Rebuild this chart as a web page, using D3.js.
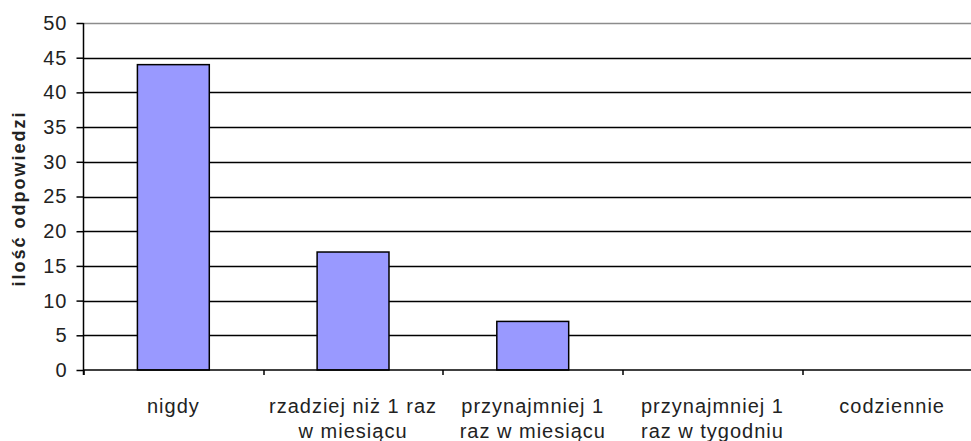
<!DOCTYPE html>
<html>
<head>
<meta charset="utf-8">
<script src="https://cdn.jsdelivr.net/npm/d3@7"></script>
<style>
  body { margin: 0; background: #fff; }
  text { font-family: "Liberation Sans", Arial, sans-serif; }
</style>
</head>
<body>
<script>
// chart data
var categories = ["nigdy", "rzadziej niż 1 raz|w miesiącu", "przynajmniej 1|raz w miesiącu", "przynajmniej 1|raz w tygodniu", "codziennie"];
var values = [44, 17, 7, 0, 0];
var yTicks = [0, 5, 10, 15, 20, 25, 30, 35, 40, 45, 50];
var yLabel = "ilość odpowiedzi";

var margin = {top: 23, right: 0, bottom: 71, left: 83.5},
    width = 982 - margin.left,
    height = 441 - margin.top - margin.bottom;

var svg = d3.select("body").append("svg")
    .attr("width", 971)
    .attr("height", 441)
  .append("g")
    .attr("transform", "translate(" + margin.left + "," + margin.top + ")");

var x = d3.scaleBand()
    .domain(categories)
    .range([0, width])
    .paddingInner(0.6)
    .paddingOuter(0.3);

// band boundaries for category ticks
var xb = d3.scaleBand().domain(categories).range([0, width]);

var y = d3.scaleLinear().domain([0, 50]).range([height, 0]);

// gridlines
svg.selectAll(".grid")
    .data(yTicks.filter(function(d) { return d > 0; }))
  .enter().append("line")
    .attr("x1", 0).attr("x2", width)
    .attr("y1", function(d) { return Math.round(y(d)) + 0.5; })
    .attr("y2", function(d) { return Math.round(y(d)) + 0.5; })
    .attr("stroke", function(d) { return d === 50 ? "#8c8c8c" : "#000"; })
    .attr("stroke-width", 1.5);

// bars
svg.selectAll(".bar")
    .data(values.map(function(v, i) { return {c: categories[i], v: v}; }).filter(function(d) { return d.v > 0; }))
  .enter().append("rect")
    .attr("x", function(d) { return x(d.c); })
    .attr("width", x.bandwidth())
    .attr("y", function(d) { return y(d.v); })
    .attr("height", function(d) { return height - y(d.v); })
    .attr("fill", "#9999ff")
    .attr("stroke", "#000")
    .attr("stroke-width", 1.5);

// y axis
var yAxis = svg.append("g")
    .call(d3.axisLeft(y).tickValues(yTicks).tickSize(7).tickPadding(9));
yAxis.select(".domain").attr("stroke-width", 1.5).attr("d", "M0," + (height + 5) + "V0");
yAxis.selectAll(".tick line").attr("stroke-width", 1.5);
yAxis.selectAll("text").attr("font-size", 20).attr("fill", "#222")
    .attr("letter-spacing", 1)
    .style("font-family", "'Liberation Sans', Arial, sans-serif");

// x axis
var xAxisG = svg.append("g").attr("transform", "translate(0," + height + ")");
xAxisG.append("line")
    .attr("x1", 0).attr("x2", width)
    .attr("y1", 0).attr("y2", 0)
    .attr("stroke", "#000").attr("stroke-width", 1.5);
xAxisG.selectAll(".xt")
    .data(categories)
  .enter().append("line")
    .attr("x1", function(d) { return Math.round(xb(d)) + 0.5; })
    .attr("x2", function(d) { return Math.round(xb(d)) + 0.5; })
    .attr("y1", 0).attr("y2", 5)
    .attr("stroke", "#000").attr("stroke-width", 1.5);

var lbl = xAxisG.selectAll(".xl")
    .data(categories)
  .enter().append("text")
    .attr("text-anchor", "middle")
    .attr("font-size", 20)
    .attr("letter-spacing", 1)
    .attr("fill", "#222")
    .attr("transform", function(d) { return "translate(" + (xb(d) + xb.bandwidth() / 2) + ",43)"; });
lbl.selectAll("tspan")
    .data(function(d) { return d.split("|"); })
  .enter().append("tspan")
    .attr("x", 0)
    .attr("y", function(d, i) { return i * 25; })
    .text(function(d) { return d; });

// y label
svg.append("text")
    .attr("transform", "translate(-58.5," + (height / 2 + 2) + ") rotate(-90)")
    .attr("text-anchor", "middle")
    .attr("font-size", 18)
    .attr("font-weight", "bold")
    .attr("letter-spacing", 2)
    .attr("fill", "#222")
    .text(yLabel);
</script>
</body>
</html>
